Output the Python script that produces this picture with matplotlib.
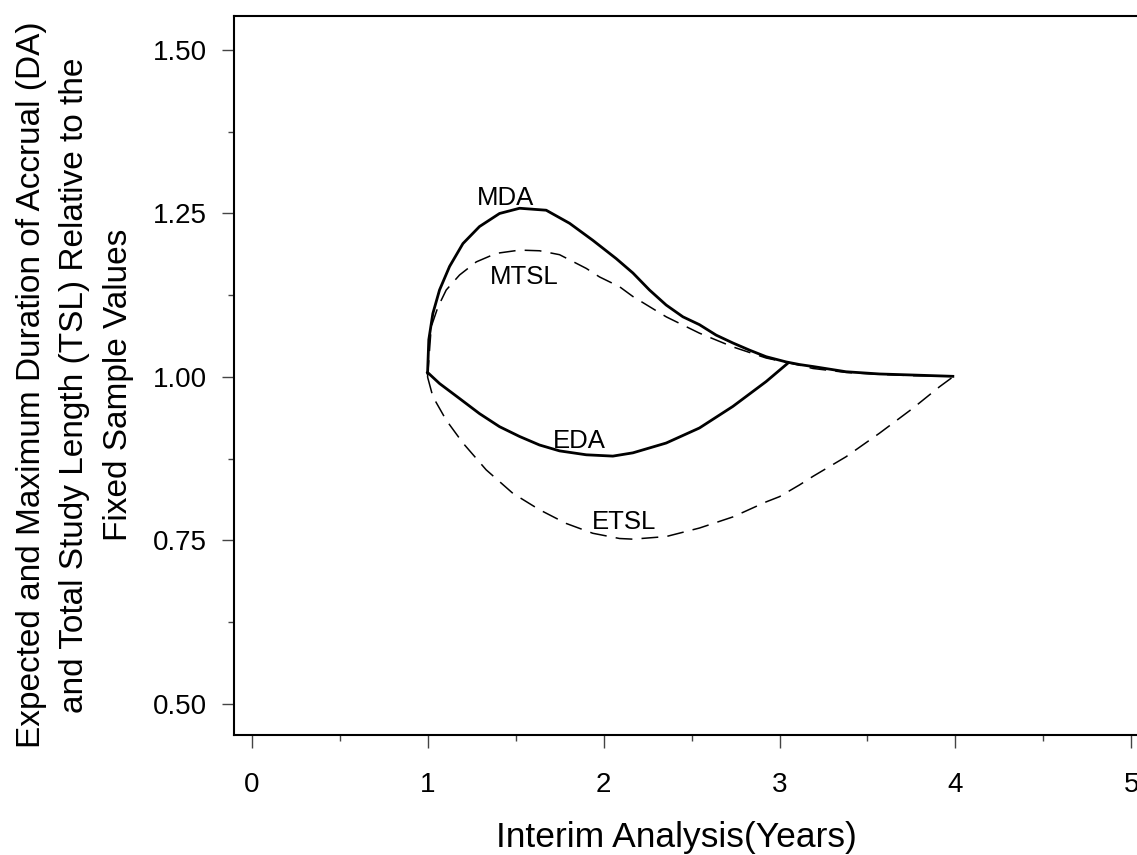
import matplotlib.pyplot as plt
from matplotlib.ticker import MultipleLocator

plt.rcParams['font.family'] = ['Liberation Sans', 'DejaVu Sans']

# Duración máxima de reclutamiento (MDA)
mda_x = [1.0, 1.007, 1.030, 1.068, 1.125, 1.201, 1.295, 1.409, 1.523, 1.674, 1.807, 1.939,
         2.072, 2.167, 2.261, 2.356, 2.451, 2.545, 2.640, 2.735, 2.830, 2.924, 3.038, 3.114,
         3.19, 3.378, 3.568, 3.757, 3.985]
mda_y = [1.006, 1.057, 1.097, 1.133, 1.169, 1.204, 1.230, 1.250, 1.258, 1.255, 1.235, 1.209,
         1.181, 1.159, 1.133, 1.110, 1.092, 1.080, 1.064, 1.052, 1.041, 1.031, 1.023, 1.019,
         1.016, 1.008, 1.0046, 1.003, 1.001]

# Duración máxima total del estudio (MTSL)
mtsl_x = [1.0, 1.021, 1.059, 1.106, 1.182, 1.277, 1.390, 1.523, 1.636, 1.75, 1.902, 1.977,
          2.091, 2.167, 2.356, 2.545, 2.735, 2.924, 3.114, 3.19, 3.378, 3.568, 3.757, 3.985]
mtsl_y = [1.0, 1.077, 1.107, 1.133, 1.156, 1.176, 1.189, 1.194, 1.193, 1.187, 1.166, 1.153,
          1.138, 1.123, 1.092, 1.067, 1.046, 1.029, 1.018, 1.013, 1.007, 1.004, 1.002, 1.001]

# Duración esperada de reclutamiento (EDA)
eda_x = [1.0, 1.068, 1.182, 1.295, 1.409, 1.523, 1.636, 1.750, 1.902, 2.053, 2.167, 2.356,
         2.545, 2.735, 2.924, 3.047]
eda_y = [1.007, 0.990, 0.967, 0.944, 0.924, 0.909, 0.896, 0.887, 0.881, 0.879, 0.884, 0.899,
         0.922, 0.955, 0.993, 1.021]

# Duración esperada total del estudio (ETSL)
etsl_x = [1.0, 1.030, 1.106, 1.201, 1.333, 1.485, 1.636, 1.788, 1.939, 2.091, 2.167, 2.356,
          2.545, 2.735, 2.924, 3.0, 3.114, 3.19, 3.378, 3.568, 3.757, 3.909, 3.985]
etsl_y = [1.0, 0.970, 0.934, 0.899, 0.858, 0.822, 0.797, 0.776, 0.761, 0.753, 0.752, 0.756,
          0.769, 0.786, 0.809, 0.817, 0.835, 0.848, 0.878, 0.914, 0.952, 0.985, 1.0]

etiquetas = ["MDA", "MTSL", "EDA", "ETSL"]
etiquetas_x = [1.443, 1.551, 1.864, 2.119]
etiquetas_y = [1.274, 1.153, 0.902, 0.778]

fig = plt.figure(figsize=(11.37, 8.55), dpi=100)
ax = fig.add_axes([0.2058, 0.1404, 0.8048, 0.8409])

ax.plot(mda_x, mda_y, color="black", lw=2.0, solid_joinstyle="round")
ax.plot(eda_x, eda_y, color="black", lw=2.0, solid_joinstyle="round")
ax.plot(mtsl_x, mtsl_y, color="black", lw=1.1, dashes=(11, 6))
ax.plot(etsl_x, etsl_y, color="black", lw=1.1, dashes=(11, 6))

for texto, tx, ty in zip(etiquetas, etiquetas_x, etiquetas_y):
    ax.text(tx, ty, texto, fontsize=18.5, ha="center", va="center")

ax.set_xlim(-0.1, 5.1)
ax.set_ylim(0.4526, 1.552)
ax.xaxis.set_major_locator(MultipleLocator(1))
ax.xaxis.set_minor_locator(MultipleLocator(0.5))
ax.yaxis.set_major_locator(MultipleLocator(0.25))
ax.yaxis.set_minor_locator(MultipleLocator(0.125))
ax.yaxis.set_major_formatter(plt.FormatStrFormatter("%.2f"))

for s in ax.spines.values():
    s.set_linewidth(1.5)

ax.tick_params(axis="both", which="both", direction="out", color="#444444", width=1)
ax.tick_params(axis="x", which="major", length=9, pad=18, labelsize=20)
ax.tick_params(axis="x", which="minor", length=4.5)
ax.tick_params(axis="y", which="major", length=8.5, pad=11, labelsize=20)
ax.tick_params(axis="y", which="minor", length=4.5)

ax.set_xlabel("Interim Analysis(Years)", fontsize=25.5)
ax.xaxis.set_label_coords(0.483, -0.119)

fig.text(75 / 1137, 1 - 385 / 855,
         "Expected and Maximum Duration of Accrual (DA)\n"
         "and Total Study Length (TSL) Relative to the\n"
         "Fixed Sample Values",
         fontsize=24, rotation=90, ha="center", va="center",
         multialignment="center", linespacing=1.5)

fig.savefig("out.png", dpi=100)
